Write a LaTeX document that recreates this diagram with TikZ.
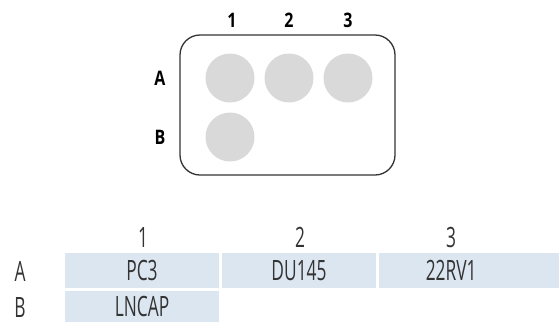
\documentclass[tikz,border=0pt]{standalone}
\usepackage{fontspec}
\setmainfont{Open Sans}
\newfontfamily\narrowfont[FakeStretch=0.62]{Open Sans}
\newfontfamily\platefont[FakeStretch=0.8]{Open Sans}
\usetikzlibrary{positioning}
\definecolor{wellgray}{HTML}{D9D9D9}
\definecolor{cellblue}{HTML}{DCE6F1}
\definecolor{inkgray}{HTML}{333333}
\tikzset{
node distance=59pt, % spacing between the wells
well/.style={circle, fill=wellgray, minimum size=49pt, inner sep=0pt}, % one well of the plate
platelabel/.style={font=\platefont\bfseries\fontsize{20}{20}\selectfont, inner sep=0pt},
cell/.style={fill=cellblue, minimum width=154pt, minimum height=35pt, inner sep=0pt, text=inkgray, font=\narrowfont\fontsize{28}{28}\selectfont}, % table cell
tablabel/.style={text=inkgray, inner sep=0pt, font=\narrowfont\fontsize{28}{28}\selectfont},
}
\begin{document}
\begin{tikzpicture}[x=1pt, y=-1pt]
\useasboundingbox (0,0) rectangle (559,322);
% the plate
\node[draw=inkgray, line width=1.3pt, rounded corners=20pt, minimum width=215pt, minimum height=140pt] (plate) at (287.5,105) {};
\node[well] (wA1) at (230,78) {};
\node[well, right of=wA1] (wA2) {};
\node[well, right of=wA2] (wA3) {};
\node[well, below of=wA1] (wB1) {};
\node[platelabel] (p1) at (232,20) {1};
\node[platelabel] (p2) at (289,20) {2};
\node[platelabel] (p3) at (348,20) {3};
\node[platelabel] (pA) at (160,78) {A};
\node[platelabel] (pB) at (160,137) {B};
% the table
\node[tablabel] (h1) at (143,237) {1};
\node[tablabel] (h2) at (300,237) {2};
\node[tablabel] (h3) at (451,237) {3};
\node[tablabel] (rA) at (20,271) {A};
\node[tablabel] (rB) at (20,307) {B};
\node[cell] (cA1) at (142,270.5) {PC3};
\node[cell] (cA2) at (299,270.5) {DU145};
\node[cell, minimum width=180pt, anchor=west] (cA3) at (379,270.5) {\hspace*{-36pt}22RV1};
\node[cell, minimum height=31pt] (cB1) at (142,306.5) {LNCAP};
\end{tikzpicture}
\end{document}
